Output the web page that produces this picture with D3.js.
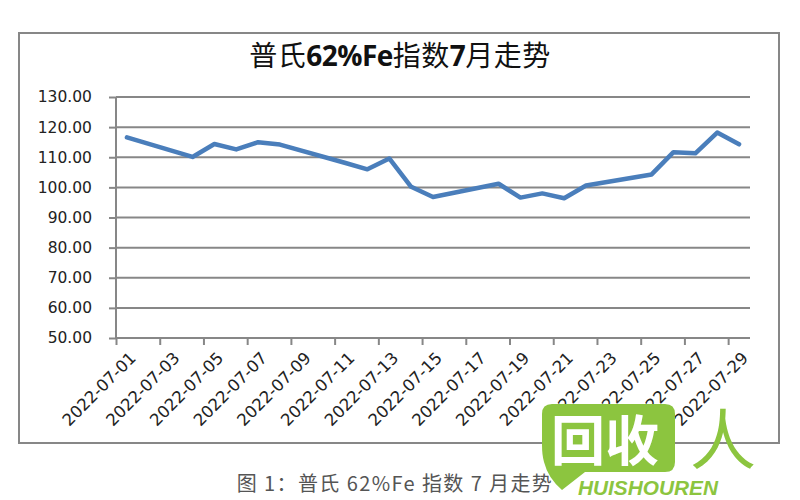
<!DOCTYPE html>
<html>
<head>
<meta charset="utf-8">
<script src="https://cdn.jsdelivr.net/npm/d3@7"></script>
<style>
  html, body { margin: 0; padding: 0; background: #fff; }
  svg { display: block; }
</style>
</head>
<body>
<svg id="chart" width="800" height="500"></svg>
<script>
// ---- data ----
const dates = ["2022-07-01","2022-07-04","2022-07-05","2022-07-06","2022-07-07","2022-07-08",
               "2022-07-11","2022-07-12","2022-07-13","2022-07-14","2022-07-15",
               "2022-07-18","2022-07-19","2022-07-20","2022-07-21","2022-07-22",
               "2022-07-25","2022-07-26","2022-07-27","2022-07-28","2022-07-29"];
const values = [116.6, 110.1, 114.4, 112.6, 115.0, 114.2,
                108.1, 106.0, 109.6, 100.2, 96.8,
                101.2, 96.6, 98.0, 96.4, 100.6,
                104.3, 111.7, 111.3, 118.2, 114.3];
const yTicks = [50, 60, 70, 80, 90, 100, 110, 120, 130];
const xTickLabels = ["2022-07-01","2022-07-03","2022-07-05","2022-07-07","2022-07-09","2022-07-11",
                     "2022-07-13","2022-07-15","2022-07-17","2022-07-19","2022-07-21","2022-07-23",
                     "2022-07-25","2022-07-27","2022-07-29"];
const titleParts = [["普氏", false], ["62%Fe", true], ["指数", false], ["7", true], ["月走势", false]];
const caption = "图 1：普氏 62%Fe 指数 7 月走势";

// ---- layout ----
const svg = d3.select("#chart");
const parse = d3.utcParse("%Y-%m-%d");
const HALF_DAY = 12 * 3600 * 1000;
const dStart = new Date(parse(xTickLabels[0]).getTime() - HALF_DAY);
const dEnd = new Date(parse(xTickLabels[xTickLabels.length - 1]).getTime() + HALF_DAY);

const plot = { left: 116, right: 750, top: 97, bottom: 338 };
const x = d3.scaleUtc().domain([dStart, dEnd]).range([plot.left, plot.right]);
const y = d3.scaleLinear().domain([50, 130]).range([plot.bottom, plot.top]);

const grey = "#878787";

// outer border
svg.append("rect").attr("x", 19).attr("y", 33).attr("width", 760).attr("height", 410)
  .attr("fill", "#fff").attr("stroke", grey).attr("stroke-width", 2);

// title
const title = svg.append("text").attr("x", 400).attr("y", 66).attr("text-anchor", "middle")
  .attr("font-family", "'Noto Sans CJK SC', sans-serif").attr("font-size", 28).attr("fill", "#111");
titleParts.forEach(([t, b]) => {
  title.append("tspan").text(t)
    .attr("font-weight", b ? "bold" : "normal")
    .attr("font-family", b ? "'Open Sans', 'DejaVu Sans', sans-serif" : "'Noto Sans CJK SC', sans-serif")
    .attr("letter-spacing", b ? -0.5 : 0.5);
});

// gridlines
svg.append("g").selectAll("line").data(yTicks.filter(d => d > 50)).join("line")
  .attr("x1", plot.left).attr("x2", plot.right)
  .attr("y1", d => y(d)).attr("y2", d => y(d))
  .attr("stroke", grey).attr("stroke-width", 2);

// y axis
const yAxis = svg.append("g").attr("transform", `translate(${plot.left},0)`)
  .call(d3.axisLeft(y).tickValues(yTicks).tickFormat(d3.format(".2f")).tickSize(7).tickPadding(17));
yAxis.select(".domain").attr("stroke", grey).attr("stroke-width", 2).attr("d", `M0,${plot.top}V${plot.bottom}`);
yAxis.selectAll(".tick line").attr("stroke", grey).attr("stroke-width", 2);
yAxis.selectAll(".tick text").attr("font-family", "'DejaVu Sans', Verdana, sans-serif")
  .attr("font-size", 15.5).attr("fill", "#222");

// x axis (tick marks between categories)
const boundaries = d3.range(0, 15).map(i => new Date(dStart.getTime() + i * 2 * 2 * HALF_DAY));
const xAxis = svg.append("g").attr("transform", `translate(0,${plot.bottom})`)
  .call(d3.axisBottom(x).tickValues(boundaries).tickFormat("").tickSize(7));
xAxis.select(".domain").attr("stroke", grey).attr("stroke-width", 2).attr("d", `M${plot.left},0H${plot.right}`);
xAxis.selectAll(".tick line").attr("stroke", grey).attr("stroke-width", 2);

// x labels
svg.append("g").selectAll("text").data(xTickLabels).join("text")
  .attr("transform", d => `translate(${x(parse(d)) + 6},${plot.bottom + 17}) rotate(-45)`)
  .attr("text-anchor", "end").attr("dy", "0.35em")
  .attr("font-family", "'DejaVu Sans', Verdana, sans-serif").attr("font-size", 16.5)
  .attr("fill", "#222").text(d => d);

// line
const pts = dates.map((d, i) => [parse(d), values[i]]);
svg.append("path").datum(pts)
  .attr("fill", "none").attr("stroke", "#4a7ebb").attr("stroke-width", 4.5)
  .attr("stroke-linejoin", "round").attr("stroke-linecap", "round")
  .attr("d", d3.line().x(d => x(d[0])).y(d => y(d[1])));

// caption
svg.append("text").attr("x", 395).attr("y", 491).attr("text-anchor", "middle")
  .attr("font-family", "'Noto Sans CJK SC', serif").attr("font-size", 20).attr("letter-spacing", 1.4)
  .attr("fill", "#555").text(caption);

// watermark
const green = "#8cc53f";
const wm = svg.append("g");
wm.append("path")
  .attr("d", "M552,404 H665 Q675,404 675,414 V462 Q675,472 665,472 H585 L562,490 Q548,478 544,462 Q542,455 542,445 V414 Q542,404 552,404 Z")
  .attr("fill", green);
wm.append("text").attr("x", 551).attr("y", 461).attr("font-family", "'Noto Sans CJK SC', sans-serif")
  .attr("font-weight", "bold").attr("font-size", 54).attr("fill", "#fff").text("回收");
wm.append("text").attr("x", 690).attr("y", 464).attr("font-family", "'Noto Sans CJK SC', sans-serif")
  .attr("font-size", 66).attr("fill", green).text("人");
wm.append("text").attr("x", 578).attr("y", 495).attr("font-family", "'Liberation Sans', sans-serif")
  .attr("font-weight", "bold").attr("font-style", "italic").attr("font-size", 20)
  .attr("textLength", 140).attr("lengthAdjust", "spacingAndGlyphs").attr("fill", green).text("HUISHOUREN");
</script>
</body>
</html>
